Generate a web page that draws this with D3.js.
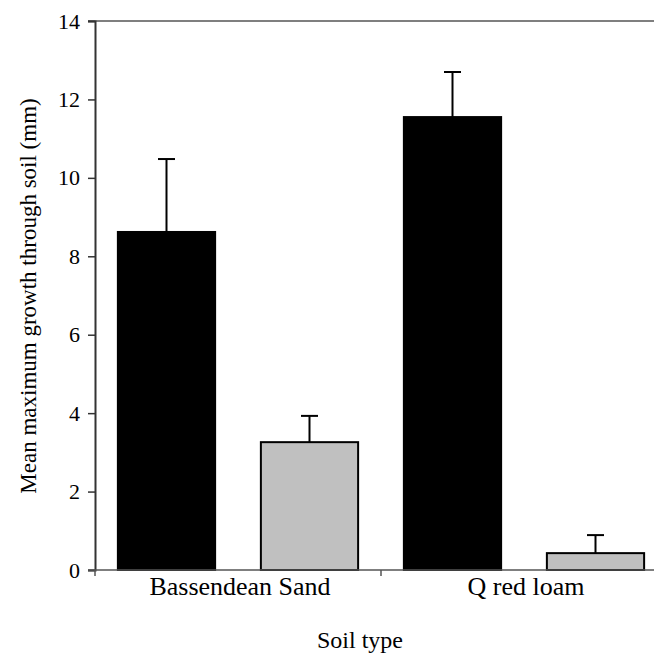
<!DOCTYPE html>
<html>
<head>
<meta charset="utf-8">
<script src="https://cdn.jsdelivr.net/npm/d3@7"></script>
<style>
  html, body { margin: 0; padding: 0; background: #fff; }
  svg { display: block; font-family: "Liberation Serif", "Times New Roman", serif; }
</style>
</head>
<body>
<svg id="chart" width="654" height="655"></svg>
<script>
// Soil types and treatment series
const categories = ["Bassendean Sand", "Q red loam"];
const seriesNames = ["dark", "light"];
const seriesDark = [8.62, 11.55];
const seriesLight = [3.26, 0.43];
const errDark = [1.86, 1.15];
const errLight = [0.67, 0.46];
const yTicks = [0, 2, 4, 6, 8, 10, 12, 14];
const seriesColors = ["#000000", "#c0c0c0"];

const serif = "'Liberation Serif', 'Times New Roman', serif";
const svg = d3.select("#chart");
const plotLeft = 95, plotTop = 21, plotBottom = 570, plotRight = 667;

const x0 = d3.scaleBand().domain(categories).range([plotLeft, plotRight]).paddingInner(0).paddingOuter(0);
const x1 = d3.scaleBand().domain(seriesNames).range([0, x0.bandwidth()])
  .paddingInner(0.32).paddingOuter(0.16);
const y = d3.scaleLinear().domain([0, 14]).range([plotBottom, plotTop]);

const rows = [];
categories.forEach((c, i) => {
  rows.push({ cat: c, s: "dark", v: seriesDark[i], e: errDark[i], color: seriesColors[0] });
  rows.push({ cat: c, s: "light", v: seriesLight[i], e: errLight[i], color: seriesColors[1] });
});

// Error bars (drawn first so the bar covers the lower half)
const eb = svg.append("g");
rows.forEach(d => {
  const cx = x0(d.cat) + x1(d.s) + x1.bandwidth() / 2;
  eb.append("line").attr("x1", cx).attr("x2", cx)
    .attr("y1", y(d.v)).attr("y2", y(d.v + d.e))
    .attr("stroke", "#000").attr("stroke-width", 2);
  eb.append("line").attr("x1", cx - 8.5).attr("x2", cx + 8.5)
    .attr("y1", y(d.v + d.e)).attr("y2", y(d.v + d.e))
    .attr("stroke", "#000").attr("stroke-width", 2);
});

// Bars
svg.append("g").selectAll("rect").data(rows).join("rect")
  .attr("x", d => x0(d.cat) + x1(d.s))
  .attr("width", x1.bandwidth())
  .attr("y", d => y(d.v))
  .attr("height", d => y(0) - y(d.v))
  .attr("fill", d => d.color)
  .attr("stroke", "#000")
  .attr("stroke-width", 2);

// Top frame line
svg.append("line").attr("x1", plotLeft - 7).attr("x2", 654)
  .attr("y1", y(14)).attr("y2", y(14))
  .attr("stroke", "#555").attr("stroke-width", 1.5);

// Y axis
const yAxis = svg.append("g").attr("transform", `translate(${plotLeft},0)`)
  .call(d3.axisLeft(y).tickValues(yTicks).tickSize(7).tickPadding(8).tickFormat(d3.format("d")));
yAxis.attr("font-family", serif);
yAxis.select(".domain").attr("stroke", "#333").attr("stroke-width", 2);
yAxis.selectAll(".tick line").attr("stroke", "#333").attr("stroke-width", 1.5);
yAxis.selectAll(".tick text").attr("font-size", 22).attr("fill", "#000");

// X axis baseline with separator ticks between categories
svg.append("line").attr("x1", plotLeft - 7).attr("x2", 654)
  .attr("y1", plotBottom).attr("y2", plotBottom)
  .attr("stroke", "#555").attr("stroke-width", 1.5);
const sepTicks = categories.map(c => x0(c));
svg.append("g").selectAll("line").data(sepTicks).join("line")
  .attr("x1", d => d).attr("x2", d => d)
  .attr("y1", plotBottom).attr("y2", plotBottom + 6)
  .attr("stroke", "#555").attr("stroke-width", 1.5);

// Category labels
svg.append("g").selectAll("text").data(categories).join("text")
  .attr("x", d => x0(d) + x0.bandwidth() / 2 + 2)
  .attr("y", 595)
  .attr("text-anchor", "middle")
  .attr("font-family", serif)
  .attr("font-size", 26)
  .text(d => d);

// Axis titles
svg.append("text").attr("x", 360).attr("y", 648).attr("text-anchor", "middle")
  .attr("font-family", serif).attr("font-size", 24).text("Soil type");
svg.append("text").attr("transform", "translate(36,296) rotate(-90)")
  .attr("text-anchor", "middle").attr("font-family", serif).attr("font-size", 23)
  .text("Mean maximum growth through soil (mm)");
</script>
</body>
</html>
